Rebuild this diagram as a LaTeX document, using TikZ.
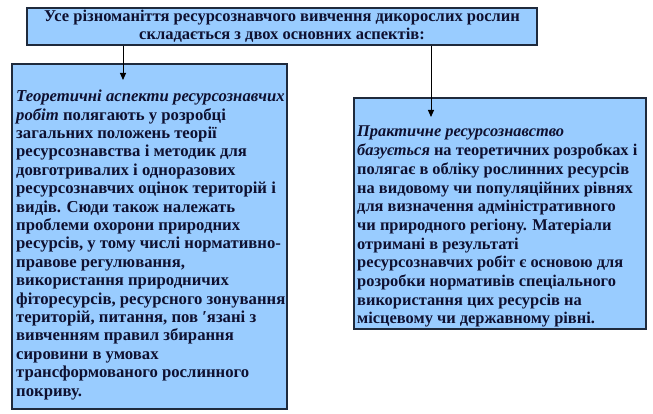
\documentclass[tikz,border=0pt]{standalone}
\usepackage{fontspec}
\setmainfont{Liberation Serif}
\usepackage{xcolor}
\usetikzlibrary{positioning,calc,arrows.meta}

\definecolor{boxfill}{HTML}{99CCFF}
\definecolor{boxline}{HTML}{1F2A3C}
\definecolor{ink}{HTML}{0E1030}

\tikzset{
    aspectbox/.style={draw=boxline, fill=boxfill, line width=1.2pt, inner sep=0pt},
    bodytext/.style={text=ink, align=left, inner sep=0pt, font=\bfseries},
    feed/.style={-{Triangle[length=7pt,width=6pt]}, line width=1pt, draw=black}
}

\begin{document}
\begin{tikzpicture}[x=1pt,y=1pt]
        \useasboundingbox (0,0) rectangle (653,-414);

        \node[aspectbox, minimum width=510pt, minimum height=37pt, text=ink, align=center,
              font=\fontsize{16.5}{18}\selectfont\bfseries] (whole) at (282,-26.5)
            {Усе різноманіття ресурсознавчого вивчення дикорослих рослин\\
             складається з двох основних аспектів:};

        \node[aspectbox, minimum width=275pt, minimum height=345pt] (theory) at (149.5,-236.5) {};
        \node[aspectbox, minimum width=292pt, minimum height=231pt] (practice) at (500,-213.5) {};

        \node[bodytext, anchor=north west, font=\fontsize{16.7}{18.4}\selectfont\bfseries] (theorytext) at (16,-90)
            {\textit{Теоретичні аспекти ресурсознавчих}\\
             \textit{робіт} полягають у розробці\\
             загальних положень теорії\\
             ресурсознавства і методик для\\
             довготривалих і одноразових\\
             ресурсознавчих оцінок територій і\\
             видів. Сюди також належать\\
             проблеми охорони природних\\
             ресурсів, у тому числі нормативно-\\
             правове регулювання,\\
             використання природничих\\
             фіторесурсів, ресурсного зонування\\
             територій, питання, пов ′язані з\\
             вивченням правил збирання\\
             сировини в умовах\\
             трансформованого рослинного\\
             покриву.};

        \node[bodytext, anchor=north west, font=\fontsize{16.4}{18.7}\selectfont\bfseries] (practicetext) at (357,-126)
            {\textit{Практичне ресурсознавство}\\
             \textit{базується} на теоретичних розробках і\\
             полягає в обліку рослинних ресурсів\\
             на видовому чи популяційних рівнях\\
             для визначення адміністративного\\
             чи природного регіону. Матеріали\\
             отримані в результаті\\
             ресурсознавчих робіт є основою для\\
             розробки нормативів спеціального\\
             використання цих ресурсів на\\
             місцевому чи державному рівні.};

        \coordinate (theorytip) at (123,-80);
        \coordinate (practicetip) at (431,-117);
        \draw[feed] (whole.south -| theorytip) -- (theorytip);
        \draw[feed] (whole.south -| practicetip) -- (practicetip);
    \end{tikzpicture}
\end{document}
